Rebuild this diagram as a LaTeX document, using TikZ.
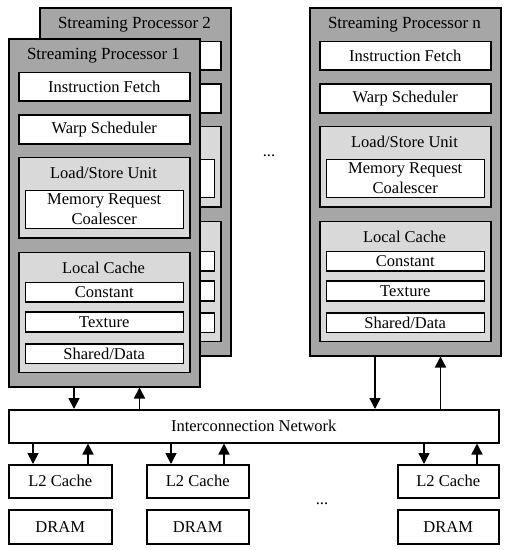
\documentclass[tikz,border=0pt]{standalone}
\usepackage{fontspec}
\setmainfont{Liberation Serif}
\usetikzlibrary{arrows.meta,calc}
\definecolor{spgray}{RGB}{166,166,166}
\definecolor{lsgray}{RGB}{217,217,217}
\newif\ifshowsptext
\showsptexttrue
\newcommand{\spt}[1]{\ifshowsptext#1\fi}
\tikzset{
  rbox/.style n args={2}{draw, line width=1.5pt, fill=white, anchor=north west,
    minimum width=#1, minimum height=#2, inner sep=0pt, font=\fontsize{16.5}{20}\selectfont, align=center},
  lbl/.style={inner sep=0pt, font=\fontsize{16.5}{20}\selectfont},
  ttl/.style={inner sep=0pt, font=\fontsize{17}{20}\selectfont},
  arr/.style={line width=1.6pt, -{Triangle[length=11pt,width=11pt]}},
  hidetext/.code={\showsptextfalse},
  spunit/.pic={
    \node[rbox={191pt}{348pt}, fill=spgray] (-box) at (0,0) {};
    \node[ttl] (-title) at (95.5,17.5) {#1};
    \node[rbox={171pt}{28.5pt}] (-if) at (10,33.5) {\spt{Instruction Fetch}};
    \node[rbox={171pt}{29pt}] (-ws) at (10,76) {\spt{Warp Scheduler}};
    \node[rbox={171pt}{80.5pt}, fill=lsgray] (-lsu) at (10,118.5) {};
    \node[lbl] (-lsut) at (95.5,135) {\spt{Load/Store Unit}};
    \node[rbox={158pt}{38pt}] (-mrc) at (16.5,151.5) {\spt{Memory Request\\Coalescer}};
    \node[rbox={171pt}{120pt}, fill=lsgray] (-lc) at (10,213.5) {};
    \node[lbl] (-lct) at (95.5,230) {\spt{Local Cache}};
    \node[rbox={158pt}{19.5pt}] (-con) at (16.5,243.5) {\spt{Constant}};
    \node[rbox={158pt}{20pt}] (-tex) at (16.5,273) {\spt{Texture}};
    \node[rbox={158pt}{19.5pt}] (-sha) at (16.5,305) {\spt{Shared/Data}};
  }
}
\begin{document}
\begin{tikzpicture}[x=1pt,y=-1pt]
\useasboundingbox (0,0) rectangle (510,550);
\pic[hidetext] (sp2) at (39,7) {spunit={Streaming Processor 2}};
\pic (sp1) at (8,38) {spunit={Streaming Processor 1}};
\pic (spn) at (309,7) {spunit={Streaming Processor n}};
\node[lbl] (dots1) at (269,156) {...};
\node[rbox={490pt}{33pt}] (ic) at (8,409) {Interconnection Network};
\node[rbox={103pt}{33pt}] (l2a) at (8,464) {L2 Cache};
\node[rbox={102pt}{33pt}] (l2b) at (146,464) {L2 Cache};
\node[rbox={101pt}{33pt}] (l2c) at (397,464) {L2 Cache};
\node[rbox={103pt}{34pt}] (dra) at (8,509) {DRAM};
\node[rbox={102pt}{34pt}] (drb) at (146,509) {DRAM};
\node[rbox={101pt}{34pt}] (drc) at (397,509) {DRAM};
\node[lbl] (dots2) at (322,504) {...};
% SP arrows
\foreach \s in {sp1,spn}{
  \coordinate (\s-d) at ([xshift=66pt]\s-box.south west);
  \coordinate (\s-u) at ([xshift=131.5pt]\s-box.south west);
  \draw[arr] (\s-d) -- (\s-d |- ic.north);
  \draw[arr] (\s-u |- ic.north) -- (\s-u);
}
% L2 arrows
\foreach \n/\a/\b in {l2a/25/80, l2b/25/78, l2c/27/80}{
  \coordinate (\n-d) at ([xshift=\a pt]\n.north west);
  \coordinate (\n-u) at ([xshift=\b pt]\n.north west);
  \draw[arr] (\n-d |- ic.south) -- (\n-d);
  \draw[arr] (\n-u) -- (\n-u |- ic.south);
}
\end{tikzpicture}
\end{document}
